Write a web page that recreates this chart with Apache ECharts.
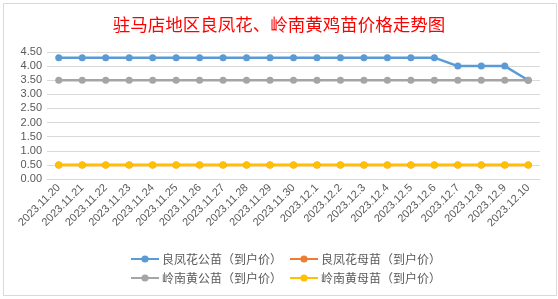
<!DOCTYPE html>
<html><head><meta charset="utf-8">
<script src="https://cdn.jsdelivr.net/npm/echarts@6/dist/echarts.min.js"></script>
<style>html,body{margin:0;padding:0;background:#fff}#c{width:558px;height:299px}</style>
</head><body><div id="c"></div>
<script>
const categories = ['2023.11.20','2023.11.21','2023.11.22','2023.11.23','2023.11.24','2023.11.25','2023.11.26','2023.11.27','2023.11.28','2023.11.29','2023.11.30','2023.12.1','2023.12.2','2023.12.3','2023.12.4','2023.12.5','2023.12.6','2023.12.7','2023.12.8','2023.12.9','2023.12.10'];
const lfhMale   = [4.3,4.3,4.3,4.3,4.3,4.3,4.3,4.3,4.3,4.3,4.3,4.3,4.3,4.3,4.3,4.3,4.3,4.0,4.0,4.0,3.5];
const lfhFemale = [0.5,0.5,0.5,0.5,0.5,0.5,0.5,0.5,0.5,0.5,0.5,0.5,0.5,0.5,0.5,0.5,0.5,0.5,0.5,0.5,0.5];
const lnhMale   = [3.5,3.5,3.5,3.5,3.5,3.5,3.5,3.5,3.5,3.5,3.5,3.5,3.5,3.5,3.5,3.5,3.5,3.5,3.5,3.5,3.5];
const lnhFemale = [0.5,0.5,0.5,0.5,0.5,0.5,0.5,0.5,0.5,0.5,0.5,0.5,0.5,0.5,0.5,0.5,0.5,0.5,0.5,0.5,0.5];
const seriesNames = ['良凤花公苗（到户价）','良凤花母苗（到户价）','岭南黄公苗（到户价）','岭南黄母苗（到户价）'];
const colors = ['#5B9BD5','#ED7D31','#A5A5A5','#FFC000'];
const values = [lfhMale, lfhFemale, lnhMale, lnhFemale];

const chart = echarts.init(document.getElementById('c'), null, {renderer:'canvas'});
const font = 'Arial, "Liberation Sans", "Noto Sans CJK SC", sans-serif';
chart.setOption({
  animation:false,
  backgroundColor:'#fff',
  color: colors,
  title:{text:'驻马店地区良凤花、岭南黄鸡苗价格走势图', left:'center', top:11,
    textStyle:{color:'#FF0000', fontSize:17.5, fontWeight:'normal', fontFamily:'"Noto Sans CJK SC", sans-serif'}},
  grid:{left:47, right:18, top:52, bottom:120, containLabel:false},
  legend:{left:125, top:248, width:330, itemWidth:28, itemHeight:9, itemGap:7,
    data: seriesNames,
    textStyle:{color:'#595959', fontSize:12, padding:[0,0,0,-2], fontFamily:'"Noto Sans CJK SC", sans-serif'}},
  xAxis:{type:'category', data:categories, boundaryGap:true,
    axisLine:{lineStyle:{color:'#D9D9D9'}}, axisTick:{show:false},
    axisLabel:{rotate:45, interval:0, color:'#595959', fontSize:11, fontFamily:font, margin:7}},
  yAxis:{type:'value', min:0, max:4.5, interval:0.5,
    axisLine:{show:false}, axisTick:{show:false},
    splitLine:{lineStyle:{color:'#D9D9D9'}},
    axisLabel:{color:'#595959', fontSize:11, fontFamily:font, margin:5, formatter:v=>v.toFixed(2)}},
  graphic:[{type:'rect', shape:{x:3.5,y:3.5,width:553,height:292}, style:{fill:'none', stroke:'#D9D9D9', lineWidth:1}, silent:true}],
  series: seriesNames.map((n,i)=>({name:n, type:'line', data:values[i], symbol:'circle', symbolSize:7,
    lineStyle:{width:2.5, color:colors[i]}, itemStyle:{color:colors[i]}}))
});
</script></body></html>
